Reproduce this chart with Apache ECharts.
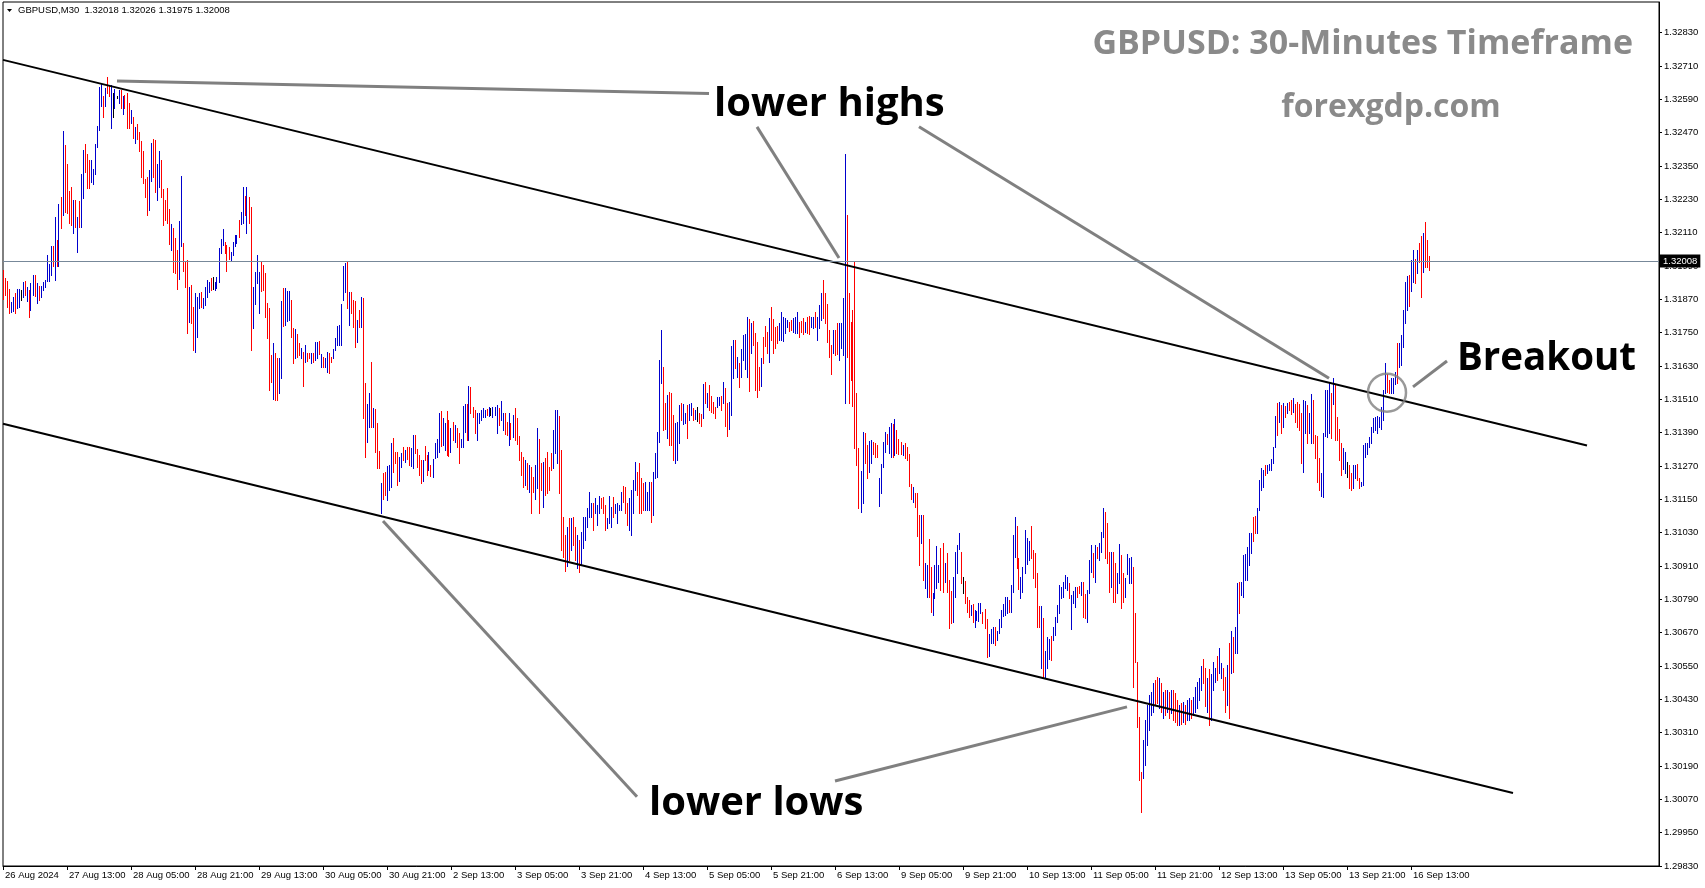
<!DOCTYPE html>
<html>
<head>
<meta charset="utf-8">
<script src="https://cdn.jsdelivr.net/npm/echarts@6/dist/echarts.min.js"></script>
<style>
html,body{margin:0;padding:0;background:#fff;}
#chart{width:1705px;height:888px;}
</style>
</head>
<body>
<div id="chart"></div>
<script>
// ---------------- data ----------------
const symbolInfo = "GBPUSD,M30  1.32018 1.32026 1.31975 1.32008";
const tickLabels = ["26 Aug 2024","27 Aug 13:00","28 Aug 05:00","28 Aug 21:00","29 Aug 13:00","30 Aug 05:00","30 Aug 21:00","2 Sep 13:00","3 Sep 05:00","3 Sep 21:00","4 Sep 13:00","5 Sep 05:00","5 Sep 21:00","6 Sep 13:00","9 Sep 05:00","9 Sep 21:00","10 Sep 13:00","11 Sep 05:00","11 Sep 21:00","12 Sep 13:00","13 Sep 05:00","13 Sep 21:00","16 Sep 13:00"];
const barsPerLabel = 32;
const yMin = 1.29830, yStep = 0.0012, yMax = 1.329404;
const lastPrice = 1.32008;

const highs = [
1.31976,1.31947,1.31936,1.31908,1.31861,1.31879,1.31893,1.31908,1.31908,1.31904,
1.31933,1.31936,1.31915,1.31904,1.31929,1.31958,1.31958,1.31929,1.31918,1.31918,
1.31933,1.31940,1.32030,1.31998,1.32062,1.32062,1.32167,1.32084,1.32214,1.32239,
1.32476,1.32426,1.32358,1.32260,1.32275,1.32228,1.32228,1.32167,1.32224,1.32322,
1.32408,1.32430,1.32394,1.32372,1.32372,1.32340,1.32430,1.32494,1.32635,1.32646,
1.32602,1.32631,1.32671,1.32642,1.32642,1.32613,1.32628,1.32602,1.32624,1.32624,
1.32602,1.32606,1.32613,1.32577,1.32552,1.32527,1.32491,1.32502,1.32473,1.32440,
1.32404,1.32304,1.32311,1.32336,1.32433,1.32448,1.32444,1.32358,1.32404,1.32372,
1.32268,1.32228,1.32271,1.32196,1.32142,1.32127,1.32091,1.32048,1.32152,1.32314,
1.32073,1.32008,1.32012,1.31915,1.31922,1.31843,1.31893,1.31879,1.31893,1.31897,
1.31875,1.31915,1.31940,1.31933,1.31947,1.31951,1.31933,1.31951,1.32055,1.32088,
1.32124,1.32077,1.32066,1.32059,1.32041,1.32077,1.32102,1.32102,1.32156,1.32185,
1.32275,1.32242,1.32275,1.32239,1.32203,1.31915,1.31969,1.32030,1.31969,1.32005,
1.31994,1.31965,1.31857,1.31839,1.31670,1.31713,1.31677,1.31659,1.31659,1.31864,
1.31911,1.31911,1.31900,1.31900,1.31868,1.31767,1.31764,1.31746,1.31713,1.31695,
1.31681,1.31706,1.31677,1.31677,1.31677,1.31677,1.31717,1.31717,1.31720,1.31674,
1.31663,1.31659,1.31681,1.31677,1.31663,1.31692,1.31731,1.31774,1.31778,1.31854,
1.31990,1.32001,1.32005,1.31897,1.31897,1.31868,1.31864,1.31796,1.31832,1.31879,
1.31875,1.31569,1.31494,1.31533,1.31645,1.31479,1.31476,1.31425,1.31324,1.31209,
1.31245,1.31249,1.31270,1.31274,1.31353,1.31371,1.31321,1.31321,1.31303,1.31317,
1.31339,1.31328,1.31339,1.31339,1.31335,1.31382,1.31382,1.31332,1.31310,1.31292,
1.31292,1.31342,1.31310,1.31321,1.31274,1.31296,1.31353,1.31368,1.31461,1.31468,
1.31443,1.31425,1.31468,1.31436,1.31407,1.31429,1.31418,1.31407,1.31389,1.31368,
1.31486,1.31494,1.31494,1.31558,1.31555,1.31483,1.31472,1.31461,1.31461,1.31472,
1.31479,1.31472,1.31476,1.31483,1.31479,1.31483,1.31483,1.31490,1.31479,1.31504,
1.31461,1.31461,1.31429,1.31461,1.31425,1.31454,1.31479,1.31443,1.31378,1.31321,
1.31303,1.31292,1.31281,1.31274,1.31267,1.31231,1.31274,1.31407,1.31368,1.31281,
1.31285,1.31299,1.31321,1.31267,1.31317,1.31400,1.31472,1.31472,1.31450,1.31328,
1.31087,1.31022,1.31051,1.31083,1.31083,1.31087,1.31051,1.31022,1.31004,1.31033,
1.31087,1.31087,1.31119,1.31177,1.31137,1.31137,1.31155,1.31130,1.31162,1.31155,
1.31159,1.31130,1.31083,1.31162,1.31123,1.31159,1.31134,1.31137,1.31130,1.31177,
1.31198,1.31195,1.31137,1.31155,1.31184,1.31220,1.31285,1.31249,1.31281,1.31227,
1.31209,1.31213,1.31177,1.31213,1.31213,1.31249,1.31317,1.31393,1.31652,1.31760,
1.31627,1.31497,1.31526,1.31537,1.31533,1.31454,1.31425,1.31429,1.31490,1.31497,
1.31494,1.31461,1.31490,1.31494,1.31497,1.31479,1.31472,1.31483,1.31461,1.31458,
1.31566,1.31573,1.31533,1.31562,1.31522,1.31501,1.31483,1.31519,1.31519,1.31522,
1.31573,1.31551,1.31497,1.31501,1.31702,1.31724,1.31724,1.31663,1.31641,1.31692,
1.31742,1.31746,1.31807,1.31800,1.31785,1.31792,1.31749,1.31717,1.31627,1.31659,
1.31735,1.31774,1.31753,1.31803,1.31843,1.31800,1.31771,1.31774,1.31785,1.31825,
1.31807,1.31803,1.31796,1.31789,1.31796,1.31803,1.31807,1.31825,1.31789,1.31792,
1.31803,1.31789,1.31807,1.31810,1.31807,1.31807,1.31825,1.31807,1.31850,1.31893,
1.31940,1.31893,1.31854,1.31760,1.31706,1.31760,1.31760,1.31785,1.31785,1.31785,
1.31875,1.32394,1.32174,1.31893,1.31789,1.31832,1.32005,1.31533,1.31335,1.31252,
1.31393,1.31389,1.31346,1.31360,1.31364,1.31357,1.31353,1.31346,1.31227,1.31278,
1.31357,1.31393,1.31386,1.31411,1.31425,1.31422,1.31440,1.31400,1.31368,1.31357,
1.31346,1.31353,1.31339,1.31314,1.31206,1.31195,1.31173,1.31173,1.31094,1.31094,
1.31094,1.30921,1.30914,1.31008,1.30907,1.30813,1.30914,1.30982,1.30914,1.30975,
1.30993,1.30921,1.30957,1.30860,1.30820,1.30871,1.30961,1.30986,1.31029,1.30961,
1.30871,1.30856,1.30799,1.30788,1.30770,1.30774,1.30752,1.30748,1.30777,1.30777,
1.30745,1.30756,1.30720,1.30666,1.30684,1.30691,1.30691,1.30676,1.30720,1.30752,
1.30774,1.30799,1.30799,1.30788,1.30842,1.31022,1.31087,1.31054,1.30939,1.30871,
1.30907,1.31040,1.31011,1.31000,1.31054,1.30968,1.30957,1.30885,1.30766,1.30766,
1.30723,1.30604,1.30655,1.30648,1.30658,1.30691,1.30727,1.30770,1.30842,1.30835,
1.30853,1.30878,1.30871,1.30849,1.30806,1.30820,1.30835,1.30835,1.30838,1.30853,
1.30853,1.30810,1.30824,1.30932,1.30986,1.30957,1.30986,1.30979,1.30993,1.31033,
1.31119,1.31105,1.31065,1.30961,1.30961,1.30961,1.30921,1.30885,1.30989,1.30950,
1.30885,1.30867,1.30954,1.30939,1.30943,1.30907,1.30741,1.30565,1.30367,1.30169,
1.30284,1.30356,1.30410,1.30446,1.30457,1.30489,1.30500,1.30511,1.30507,1.30489,
1.30457,1.30464,1.30464,1.30457,1.30464,1.30464,1.30453,1.30428,1.30410,1.30417,
1.30421,1.30410,1.30428,1.30435,1.30428,1.30439,1.30475,1.30493,1.30507,1.30550,
1.30576,1.30543,1.30507,1.30540,1.30522,1.30565,1.30543,1.30586,1.30615,1.30561,
1.30543,1.30511,1.30554,1.30633,1.30676,1.30655,1.30691,1.30849,1.30853,1.30853,
1.30950,1.30954,1.30979,1.31029,1.31029,1.31087,1.31090,1.31119,1.31220,1.31263,
1.31256,1.31274,1.31274,1.31278,1.31296,1.31339,1.31450,1.31497,1.31501,1.31490,
1.31497,1.31486,1.31497,1.31501,1.31508,1.31515,1.31494,1.31501,1.31494,1.31461,
1.31508,1.31504,1.31490,1.31461,1.31530,1.31508,1.31382,1.31378,1.31299,1.31245,
1.31389,1.31544,1.31544,1.31573,1.31533,1.31587,1.31562,1.31447,1.31404,1.31353,
1.31335,1.31321,1.31285,1.31274,1.31245,1.31274,1.31274,1.31278,1.31227,1.31213,
1.31346,1.31353,1.31353,1.31375,1.31411,1.31443,1.31447,1.31450,1.31447,1.31483,
1.31544,1.31641,1.31602,1.31580,1.31587,1.31587,1.31609,1.31713,1.31713,1.31742,
1.31832,1.31933,1.31954,1.31958,1.32012,1.32048,1.32016,1.32048,1.32073,1.32098,
1.32109,1.32149,1.32084,1.32026
];

const lows = [
1.31872,1.31886,1.31843,1.31821,1.31825,1.31828,1.31821,1.31839,1.31843,1.31868,
1.31879,1.31886,1.31864,1.31807,1.31832,1.31886,1.31882,1.31857,1.31868,1.31879,
1.31904,1.31915,1.31936,1.31936,1.31958,1.31990,1.31940,1.31990,1.31990,1.32127,
1.32174,1.32185,1.32181,1.32145,1.32138,1.32109,1.32131,1.32041,1.32131,1.32131,
1.32235,1.32329,1.32271,1.32271,1.32293,1.32286,1.32322,1.32419,1.32480,1.32566,
1.32527,1.32566,1.32613,1.32602,1.32487,1.32527,1.32559,1.32595,1.32577,1.32559,
1.32538,1.32559,1.32487,1.32487,1.32505,1.32451,1.32433,1.32448,1.32404,1.32311,
1.32289,1.32239,1.32174,1.32192,1.32296,1.32311,1.32257,1.32228,1.32275,1.32239,
1.32138,1.32156,1.32145,1.32070,1.32048,1.31969,1.31965,1.31908,1.31944,1.32062,
1.31972,1.31915,1.31749,1.31789,1.31785,1.31688,1.31681,1.31735,1.31839,1.31843,
1.31839,1.31850,1.31879,1.31897,1.31904,1.31908,1.31904,1.31911,1.31933,1.32037,
1.32066,1.32037,1.31972,1.32016,1.32012,1.32030,1.32062,1.32073,1.32095,1.32142,
1.32145,1.32174,1.32109,1.32145,1.31688,1.31767,1.31854,1.31929,1.31821,1.31900,
1.31904,1.31807,1.31731,1.31544,1.31573,1.31512,1.31508,1.31508,1.31533,1.31587,
1.31774,1.31778,1.31792,1.31796,1.31735,1.31641,1.31659,1.31663,1.31670,1.31659,
1.31558,1.31645,1.31648,1.31659,1.31641,1.31645,1.31652,1.31659,1.31674,1.31627,
1.31627,1.31627,1.31609,1.31605,1.31645,1.31659,1.31688,1.31706,1.31706,1.31706,
1.31868,1.31897,1.31839,1.31778,1.31821,1.31771,1.31699,1.31717,1.31771,1.31771,
1.31443,1.31303,1.31357,1.31411,1.31411,1.31411,1.31321,1.31263,1.31263,1.31101,
1.31152,1.31166,1.31148,1.31184,1.31195,1.31249,1.31281,1.31202,1.31216,1.31267,
1.31292,1.31285,1.31296,1.31274,1.31270,1.31263,1.31317,1.31267,1.31238,1.31209,
1.31216,1.31292,1.31238,1.31256,1.31234,1.31231,1.31299,1.31303,1.31321,1.31342,
1.31346,1.31328,1.31310,1.31306,1.31321,1.31364,1.31357,1.31339,1.31281,1.31339,
1.31339,1.31393,1.31364,1.31364,1.31461,1.31447,1.31389,1.31364,1.31425,1.31436,
1.31447,1.31447,1.31454,1.31450,1.31454,1.31447,1.31454,1.31389,1.31418,1.31436,
1.31400,1.31386,1.31382,1.31346,1.31368,1.31375,1.31364,1.31350,1.31292,1.31238,
1.31195,1.31202,1.31188,1.31177,1.31101,1.31177,1.31152,1.31191,1.31101,1.31184,
1.31123,1.31166,1.31173,1.31184,1.31256,1.31263,1.31317,1.31281,1.31173,1.30968,
1.30943,1.30892,1.30910,1.30932,1.30968,1.30986,1.30932,1.30903,1.30889,1.30914,
1.30975,1.31004,1.31051,1.31087,1.31087,1.31040,1.31101,1.31058,1.31101,1.31119,
1.31101,1.31040,1.31047,1.31065,1.31051,1.31087,1.31101,1.31065,1.31112,1.31112,
1.31141,1.31101,1.31058,1.31040,1.31022,1.31101,1.31184,1.31166,1.31101,1.31101,
1.31112,1.31112,1.31112,1.31112,1.31069,1.31094,1.31227,1.31231,1.31357,1.31569,
1.31400,1.31404,1.31371,1.31346,1.31346,1.31292,1.31281,1.31292,1.31353,1.31436,
1.31422,1.31425,1.31371,1.31436,1.31454,1.31436,1.31440,1.31432,1.31425,1.31414,
1.31443,1.31497,1.31483,1.31472,1.31465,1.31461,1.31443,1.31483,1.31490,1.31472,
1.31497,1.31414,1.31378,1.31404,1.31454,1.31587,1.31623,1.31591,1.31555,1.31591,
1.31652,1.31620,1.31591,1.31540,1.31677,1.31706,1.31544,1.31519,1.31544,1.31558,
1.31641,1.31702,1.31677,1.31645,1.31724,1.31677,1.31695,1.31713,1.31724,1.31724,
1.31720,1.31749,1.31771,1.31756,1.31760,1.31753,1.31749,1.31749,1.31735,1.31753,
1.31746,1.31753,1.31749,1.31746,1.31771,1.31767,1.31771,1.31724,1.31767,1.31796,
1.31803,1.31785,1.31717,1.31663,1.31602,1.31677,1.31670,1.31674,1.31652,1.31695,
1.31670,1.31497,1.31663,1.31497,1.31580,1.31486,1.31335,1.31274,1.31119,1.31105,
1.31137,1.31281,1.31227,1.31249,1.31281,1.31314,1.31303,1.31303,1.31126,1.31173,
1.31267,1.31321,1.31350,1.31317,1.31303,1.31303,1.31310,1.31317,1.31314,1.31314,
1.31310,1.31299,1.31292,1.31198,1.31152,1.31141,1.31123,1.31018,1.30914,1.30993,
1.30860,1.30831,1.30799,1.30799,1.30745,1.30734,1.30795,1.30831,1.30853,1.30824,
1.30817,1.30853,1.30817,1.30687,1.30705,1.30709,1.30799,1.30885,1.30972,1.30849,
1.30813,1.30777,1.30745,1.30727,1.30734,1.30709,1.30691,1.30716,1.30712,1.30741,
1.30705,1.30687,1.30583,1.30586,1.30633,1.30633,1.30626,1.30644,1.30669,1.30691,
1.30730,1.30734,1.30741,1.30745,1.30745,1.30817,1.30943,1.30903,1.30828,1.30795,
1.30817,1.30885,1.30918,1.30932,1.30939,1.30867,1.30835,1.30691,1.30691,1.30543,
1.30511,1.30511,1.30543,1.30576,1.30572,1.30644,1.30662,1.30709,1.30741,1.30795,
1.30799,1.30831,1.30824,1.30795,1.30684,1.30777,1.30763,1.30799,1.30813,1.30806,
1.30727,1.30723,1.30709,1.30813,1.30889,1.30871,1.30853,1.30939,1.30932,1.30961,
1.31015,1.30939,1.30921,1.30817,1.30835,1.30781,1.30781,1.30813,1.30849,1.30759,
1.30781,1.30799,1.30882,1.30849,1.30849,1.30475,1.30565,1.30331,1.30140,1.30025,
1.30147,1.30194,1.30266,1.30320,1.30374,1.30385,1.30410,1.30417,1.30399,1.30385,
1.30363,1.30374,1.30385,1.30363,1.30381,1.30356,1.30349,1.30338,1.30338,1.30342,
1.30349,1.30342,1.30356,1.30356,1.30363,1.30374,1.30385,1.30399,1.30428,1.30464,
1.30489,1.30406,1.30385,1.30338,1.30356,1.30464,1.30493,1.30500,1.30525,1.30507,
1.30464,1.30385,1.30410,1.30363,1.30525,1.30529,1.30597,1.30597,1.30741,1.30806,
1.30799,1.30860,1.30860,1.30914,1.30957,1.31000,1.31029,1.31029,1.31112,1.31184,
1.31195,1.31238,1.31245,1.31256,1.31256,1.31281,1.31339,1.31382,1.31429,1.31389,
1.31411,1.31447,1.31461,1.31472,1.31458,1.31465,1.31429,1.31411,1.31400,1.31281,
1.31249,1.31389,1.31353,1.31389,1.31353,1.31353,1.31299,1.31213,1.31184,1.31162,
1.31159,1.31378,1.31375,1.31389,1.31371,1.31494,1.31364,1.31364,1.31292,1.31238,
1.31260,1.31245,1.31231,1.31191,1.31184,1.31191,1.31227,1.31220,1.31191,1.31198,
1.31202,1.31303,1.31314,1.31339,1.31353,1.31393,1.31400,1.31389,1.31411,1.31404,
1.31436,1.31533,1.31537,1.31533,1.31533,1.31533,1.31566,1.31569,1.31627,1.31634,
1.31699,1.31785,1.31832,1.31846,1.31900,1.31933,1.31929,1.31965,1.32005,1.31879,
1.31969,1.31987,1.31987,1.31975
];

// u = up bar (blue), d = down bar (red), n = unchanged (black)
const dirs = ("dddduuduun ududuududu uuuuududud uddddududu uddduuuuuu duddununud udddududdd ddduudduud dddduddduu dddudduuud " +
"uuuudnuuuu uddduuuudu ududduuuud dddddudduu duuudduddu dudduduudu duudduuuuu uududddudu dduududddu dduuuddduu " +
"dudduudddd udduduuuud uuddududdu uududdduuu uudunuuudu uddududddd dududduudd udddduuudd ddududdudu uuuuuduuud " +
"dduuuduuuu ddduuuuddd duuuduuuuu dduddduuud uuduudundd ududddduud udduuududu uuududdddu dddudddduu uuudduuudd " +
"dudduuduuu dddddudduu uudddddddu udduuddduu uuduududdd uddddudddu duudduuuud duddduuuud nddduduuuu ddduuuduuu " +
"uuuduuuddu uuuudddddu duuuduuuuu uuuduuuddu dduuududuu udddudduud duuuuddddd uuuuuuddud udududddud uduuduuuuu " +
"dduduuuduu ddududuudu uuuuudduuu uduuuuudud ududdudddd uuduuddddu uuuududddd uundduuddu uuuuuuuuuu uudduuuduu " +
"uuuduududd uddd").replace(/ /g, '');

// chart objects, as [bar index, price]
const upperChannel = [[0, 1.32732], [792, 1.31344]];
const lowerChannel = [[0, 1.31422], [755, 1.30093]];
const pointerLines = [
  [[57, 1.32656], [353, 1.32611]],
  [[377, 1.32491], [418, 1.32019]],
  [[458, 1.32491], [663, 1.31586]],
  [[190, 1.31072], [317, 1.30079]],
  [[416, 1.30136], [562, 1.30403]],
  [[705, 1.31555], [722, 1.31648]]
];
const breakoutCircle = [692, 1.31534];

// ---------------- chart ----------------
const AXIS_SLOTS = 829;
const categories = [];
for (let k = 0; k < AXIS_SLOTS; k++) {
  const li = k / barsPerLabel;
  categories.push(Number.isInteger(li) && li < tickLabels.length ? tickLabels[li] : '');
}
const dirCode = {u: 1, d: -1, n: 0};
const barData = highs.map((h, i) => [i, h, lows[i], dirCode[dirs[i]]]);
const barColor = {'1': '#0000CD', '-1': '#FF0000', '0': '#000000'};

const FONT = '"Liberation Sans", Arial, sans-serif';
const BIG = '"Open Sans", "DejaVu Sans", sans-serif';

const chart = echarts.init(document.getElementById('chart'), null, {renderer: 'canvas', devicePixelRatio: 1});

const lineSeries = (pts, color, width) => ({
  type: 'line', data: pts, symbol: 'none', silent: true, animation: false,
  lineStyle: {color: color, width: width}, z: 4, clip: true
});

const option = {
  animation: false,
  backgroundColor: '#ffffff',
  grid: {left: 3, right: 46, top: 2, bottom: 22, show: true, borderColor: '#000', borderWidth: 1,
         containLabel: false, outerBoundsMode: 'none', backgroundColor: 'transparent'},
  xAxis: {
    type: 'category', data: categories, boundaryGap: false,
    axisLine: {show: true, lineStyle: {color: '#000', width: 1}},
    axisTick: {show: true, length: 4, interval: (idx, val) => val !== '', lineStyle: {color: '#000'}},
    axisLabel: {show: true, interval: (idx, val) => val !== '', align: 'left', margin: 4,
                padding: [0, 0, 0, 2], fontFamily: FONT, fontSize: 9.5, color: '#000', hideOverlap: false},
    splitLine: {show: false}
  },
  yAxis: {
    type: 'value', position: 'right', min: yMin, max: yMax, interval: yStep, scale: true,
    axisLine: {show: true, lineStyle: {color: '#000', width: 1}},
    axisTick: {show: true, inside: false, length: 3, lineStyle: {color: '#000'}},
    axisLabel: {show: true, margin: 5, fontFamily: FONT, fontSize: 9.5, color: '#000',
                showMaxLabel: false, formatter: v => v.toFixed(5)},
    splitLine: {show: false}
  },
  series: [
    {
      type: 'custom', data: barData, encode: {x: 0, y: [1, 2]}, clip: true, silent: true, z: 2,
      renderItem: function (params, api) {
        const i = api.value(0);
        const pH = api.coord([i, api.value(1)]);
        const pL = api.coord([i, api.value(2)]);
        const x = Math.floor(pH[0]) + 0.5;
        const y1 = Math.round(pH[1]);
        const y2 = Math.round(pL[1]) + 1;
        return {type: 'line', shape: {x1: x, y1: y1, x2: x, y2: Math.max(y1 + 1, y2)},
                style: {stroke: barColor[String(api.value(3))], lineWidth: 1, lineCap: 'butt', opacity: 1}};
      },
      markLine: {
        silent: true, symbol: ['none', 'none'], animation: false, precision: 5,
        lineStyle: {color: '#778899', width: 1, type: 'solid'},
        label: {show: true, position: 'end', distance: 1, formatter: lastPrice.toFixed(5),
                backgroundColor: '#000', color: '#fff', fontFamily: FONT, fontSize: 9.5, padding: [2, 3, 1, 3]},
        data: [{yAxis: lastPrice}]
      }
    },
    lineSeries(upperChannel, '#000000', 2),
    lineSeries(lowerChannel, '#000000', 2),
    ...pointerLines.map(p => lineSeries(p, '#808080', 3)),
    {
      type: 'scatter', data: [breakoutCircle], symbol: 'circle', symbolSize: 38, silent: true, z: 5,
      itemStyle: {color: 'rgba(0,0,0,0)', borderColor: '#808080', borderWidth: 2.5}
    }
  ],
  graphic: [
    {type: 'polygon', shape: {points: [[7, 9], [12, 9], [9.5, 12]]}, style: {fill: '#000'}},
    {type: 'text', x: 18, y: 10.5, style: {text: symbolInfo, font: '9.5px ' + FONT, fill: '#000', textVerticalAlign: 'middle'}},
    {type: 'text', x: 1633, y: 44, style: {text: 'GBPUSD: 30-Minutes Timeframe', font: 'bold 34px ' + BIG, fill: '#8a8a8a', textAlign: 'right', textVerticalAlign: 'middle'}},
    {type: 'text', x: 1391, y: 108, style: {text: 'forexgdp.com', font: 'bold 32px ' + BIG, fill: '#8a8a8a', textAlign: 'center', textVerticalAlign: 'middle'}},
    {type: 'text', x: 714, y: 105, style: {text: 'lower highs', font: 'bold 40px ' + BIG, fill: '#000', textVerticalAlign: 'middle'}},
    {type: 'text', x: 649, y: 804, style: {text: 'lower lows', font: 'bold 40px ' + BIG, fill: '#000', textVerticalAlign: 'middle'}},
    {type: 'text', x: 1457, y: 359, style: {text: 'Breakout', font: 'bold 38.5px ' + BIG, fill: '#000', textVerticalAlign: 'middle'}}
  ]
};
chart.setOption(option);
</script>
</body>
</html>
